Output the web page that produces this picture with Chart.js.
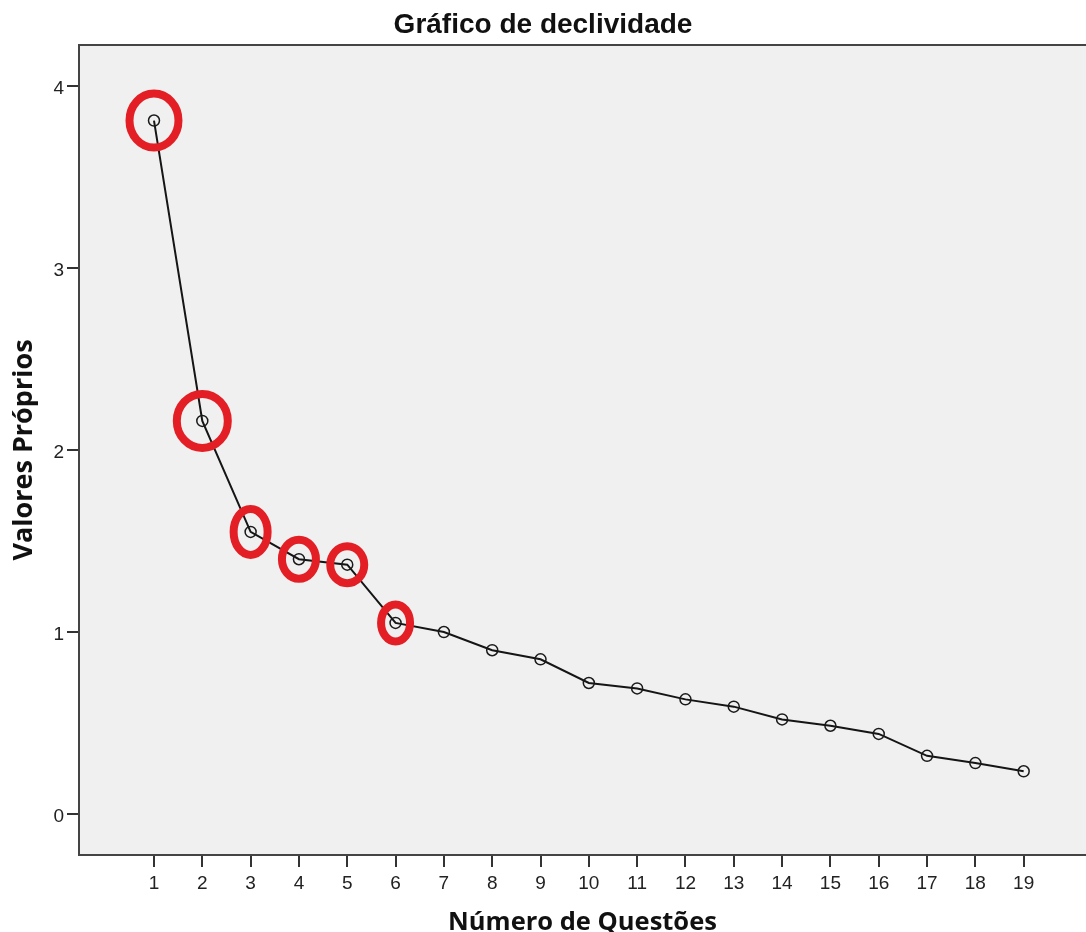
<!DOCTYPE html>
<html>
<head>
<meta charset="utf-8">
<title>Gráfico de declividade</title>
<script src="https://cdn.jsdelivr.net/npm/chart.js@4.4.1/dist/chart.umd.min.js"></script>
<style>
  body { margin: 0; background: #fff; }
  #wrap { width: 1086px; height: 932px; }
</style>
</head>
<body>
<div id="wrap"><canvas id="ctx"></canvas></div>
<script>
const questoes = [1, 2, 3, 4, 5, 6, 7, 8, 9, 10, 11, 12, 13, 14, 15, 16, 17, 18, 19];
const autovalores = [3.81, 2.16, 1.55, 1.40, 1.37, 1.05, 1.00, 0.90, 0.85, 0.72,
                     0.69, 0.63, 0.59, 0.52, 0.485, 0.44, 0.32, 0.28, 0.235];
const yTicks = [0, 1, 2, 3, 4];
// componentes retidos (marcados com anel vermelho)
const retidos = [1, 2, 3, 4, 5, 6];

// tamanho dos aneis, um por componente retido
const aneis = [
  {rx: 24.5, ry: 27}, {rx: 25.5, ry: 27}, {rx: 17, ry: 23},
  {rx: 17, ry: 19.5}, {rx: 17, ry: 18.5}, {rx: 14.5, ry: 18.5}
];

const fundoPlot = {
  id: 'fundoPlot',
  beforeDraw(chart) {
    const {ctx, chartArea: a} = chart;
    ctx.save();
    ctx.fillStyle = '#f0f0f0';
    ctx.fillRect(a.left, a.top, a.right - a.left, a.bottom - a.top);
    ctx.restore();
  },
  afterDraw(chart) {
    const {ctx, chartArea: a} = chart;
    ctx.save();
    ctx.strokeStyle = '#444';
    ctx.lineWidth = 2;
    ctx.beginPath();
    ctx.moveTo(a.left - 1, a.top);
    ctx.lineTo(a.right, a.top);
    ctx.stroke();
    ctx.restore();
  }
};

const marcas = {
  id: 'marcas',
  afterDatasetsDraw(chart) {
    const {ctx} = chart;
    const pts = chart.getDatasetMeta(0).data;
    ctx.save();
    ctx.strokeStyle = '#e31e24';
    ctx.lineWidth = 8;
    retidos.forEach((q, i) => {
      const p = pts[questoes.indexOf(q)];
      ctx.beginPath();
      ctx.ellipse(p.x, p.y, aneis[i].rx, aneis[i].ry, 0, 0, Math.PI * 2);
      ctx.stroke();
    });
    ctx.restore();
  }
};

const tickFont = {family: 'Liberation Sans', size: 19};

new Chart(document.getElementById('ctx'), {
  type: 'line',
  data: {
    datasets: [{
      label: 'Valores Próprios',
      data: questoes.map((q, i) => ({x: q, y: autovalores[i]})),
      borderColor: '#151515',
      borderWidth: 2,
      pointRadius: 5.5,
      pointBorderWidth: 1.5,
      pointBorderColor: '#1a1a1a',
      pointBackgroundColor: 'rgba(0,0,0,0)',
      tension: 0
    }]
  },
  options: {
    responsive: true,
    maintainAspectRatio: false,
    animation: false,
    layout: {padding: 0, autoPadding: false},
    plugins: {
      legend: {display: false},
      tooltip: {enabled: false},
      title: {
        display: true,
        text: 'Gráfico de declividade',
        color: '#111',
        font: {family: 'Liberation Sans', size: 28, weight: 'bold'},
        padding: {top: 8.5, bottom: 2.9}
      }
    },
    scales: {
      x: {
        type: 'linear',
        min: -0.552,
        max: 20.29,
        afterBuildTicks: s => { s.ticks = questoes.map(v => ({value: v})); },
        afterFit: s => { s.height = 77; },
        grid: {drawOnChartArea: false, drawTicks: true, tickLength: 12, color: '#333', lineWidth: 2},
        border: {color: '#444', width: 2},
        ticks: {font: tickFont, color: '#222', padding: 5, maxRotation: 0, autoSkip: false},
        title: {
          display: true, text: 'Número de Questões', color: '#111',
          font: {family: 'Open Sans', size: 25.5, weight: 'bold', lineHeight: 1},
          padding: {bottom: -3.5}
        }
      },
      y: {
        min: -0.225,
        max: 4.225,
        afterBuildTicks: s => { s.ticks = yTicks.map(v => ({value: v})); },
        afterFit: s => { s.width = 79; },
        grid: {drawOnChartArea: false, drawTicks: true, tickLength: 12, color: '#333', lineWidth: 2},
        border: {color: '#444', width: 2},
        ticks: {font: tickFont, color: '#222', padding: 3, labelOffset: 3},
        title: {
          display: true, text: 'Valores Próprios', color: '#111',
          font: {family: 'Open Sans', size: 27, weight: 'bold', lineHeight: 1},
          padding: {top: 11}
        }
      }
    }
  },
  plugins: [fundoPlot, marcas]
});
</script>
</body>
</html>
